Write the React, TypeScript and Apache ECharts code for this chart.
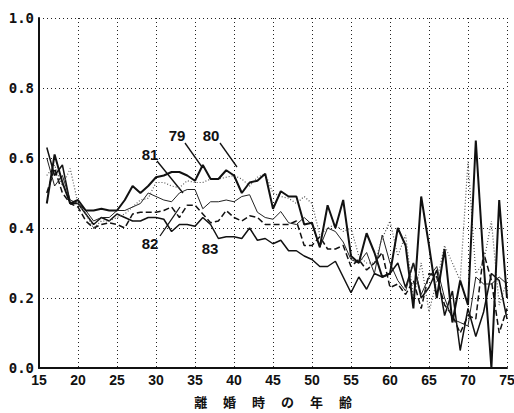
import React, { useEffect, useRef } from "react";
import * as echarts from "echarts";

const ages: number[] = [];
for (let a = 16; a <= 75; a++) ages.push(a);

const seriesNames = ["79", "80", "81", "82", "83"];

const s79 = [0.47, 0.61, 0.53, 0.47, 0.48, 0.45, 0.45, 0.455, 0.45, 0.45, 0.48, 0.52, 0.50, 0.52, 0.545, 0.55, 0.56, 0.56, 0.55, 0.535, 0.58, 0.54, 0.54, 0.565, 0.55, 0.50, 0.53, 0.535, 0.555, 0.455, 0.505, 0.49, 0.49, 0.41, 0.415, 0.345, 0.465, 0.40, 0.48, 0.32, 0.30, 0.385, 0.33, 0.26, 0.27, 0.40, 0.35, 0.17, 0.49, 0.35, 0.20, 0.34, 0.13, 0.25, 0.18, 0.65, 0.30, 0.0, 0.48, 0.20];
const s80 = [0.55, 0.58, 0.52, 0.57, 0.47, 0.44, 0.40, 0.42, 0.42, 0.43, 0.44, 0.46, 0.48, 0.485, 0.53, 0.53, 0.52, 0.515, 0.535, 0.53, 0.53, 0.54, 0.54, 0.545, 0.55, 0.54, 0.52, 0.545, 0.555, 0.50, 0.49, 0.485, 0.47, 0.49, 0.47, 0.38, 0.40, 0.41, 0.39, 0.40, 0.32, 0.30, 0.30, 0.37, 0.42, 0.32, 0.38, 0.20, 0.30, 0.16, 0.25, 0.35, 0.30, 0.25, 0.59, 0.27, 0.30, 0.42, 0.18, 0.25];
const s81 = [0.60, 0.52, 0.55, 0.48, 0.47, 0.45, 0.42, 0.43, 0.43, 0.45, 0.45, 0.46, 0.47, 0.50, 0.49, 0.48, 0.475, 0.50, 0.51, 0.51, 0.455, 0.475, 0.475, 0.48, 0.475, 0.49, 0.495, 0.445, 0.43, 0.425, 0.447, 0.415, 0.41, 0.43, 0.41, 0.345, 0.40, 0.39, 0.36, 0.31, 0.30, 0.33, 0.27, 0.38, 0.30, 0.25, 0.22, 0.30, 0.21, 0.26, 0.29, 0.20, 0.14, 0.13, 0.12, 0.26, 0.24, 0.24, 0.26, 0.24];
const s82 = [0.50, 0.57, 0.50, 0.47, 0.46, 0.42, 0.40, 0.41, 0.415, 0.41, 0.40, 0.44, 0.445, 0.445, 0.445, 0.45, 0.46, 0.43, 0.465, 0.465, 0.44, 0.415, 0.42, 0.45, 0.43, 0.42, 0.435, 0.43, 0.41, 0.41, 0.41, 0.41, 0.42, 0.35, 0.35, 0.375, 0.34, 0.34, 0.35, 0.29, 0.31, 0.28, 0.30, 0.33, 0.23, 0.24, 0.21, 0.25, 0.17, 0.27, 0.26, 0.18, 0.15, 0.10, 0.15, 0.14, 0.33, 0.25, 0.10, 0.17];
const s83 = [0.63, 0.55, 0.58, 0.47, 0.47, 0.44, 0.41, 0.43, 0.42, 0.44, 0.43, 0.42, 0.42, 0.43, 0.43, 0.425, 0.39, 0.41, 0.41, 0.405, 0.43, 0.41, 0.37, 0.375, 0.375, 0.37, 0.40, 0.365, 0.37, 0.355, 0.365, 0.335, 0.335, 0.32, 0.31, 0.29, 0.29, 0.305, 0.26, 0.215, 0.26, 0.225, 0.27, 0.26, 0.27, 0.30, 0.23, 0.30, 0.20, 0.23, 0.28, 0.15, 0.22, 0.05, 0.17, 0.09, 0.16, 0.27, 0.25, 0.14];

const xTicks = [15, 20, 25, 30, 35, 40, 45, 50, 55, 60, 65, 70, 75];
const yTicks = [0, 0.2, 0.4, 0.6, 0.8, 1.0];
const xTitle = "離 　婚 　時 　の 　年 　齢";

// label annotations: [text, textX, textY, leaderFromX, leaderFromY, leaderToX, leaderToY]
const annotations: [string, number, number, number, number, number, number][] = [
  ["79", 177, 135, 185, 143, 202, 167],
  ["80", 211, 135, 220, 143, 237, 167],
  ["81", 150, 154, 157, 161, 183, 193],
  ["82", 150, 243, 160, 236, 180, 207],
  ["83", 210, 248, 0, 0, 0, 0],
];

export default function App() {
  const ref = useRef<HTMLDivElement>(null);
  useEffect(() => {
    if (!ref.current) return;
    const chart = echarts.init(ref.current, undefined, { renderer: "svg" });
    const mk = (vals: number[]) => ages.map((a, i) => [a, vals[i]]);
    const lineStyles: any[] = [
      { color: "#111", width: 2, type: "solid" },
      { color: "#555", width: 1.2, type: [1, 2] },
      { color: "#222", width: 1, type: "solid" },
      { color: "#111", width: 1.5, type: [6, 3] },
      { color: "#111", width: 1.5, type: "solid" },
    ];
    const allData = [s79, s80, s81, s82, s83];
    const graphics: any[] = [];
    annotations.forEach(([t, tx, ty, x1, y1, x2, y2]) => {
      graphics.push({
        type: "text",
        x: tx,
        y: ty,
        style: {
          text: t,
          fill: "#111",
          font: "bold 15px 'Liberation Sans', Arial, sans-serif",
          textAlign: "center",
          textVerticalAlign: "middle",
        },
      });
      if (x1 || y1) {
        graphics.push({
          type: "line",
          shape: { x1, y1, x2, y2 },
          style: { stroke: "#111", lineWidth: 1.3 },
        });
      }
    });
    chart.setOption({
      animation: false,
      backgroundColor: "#fff",
      grid: { left: 39, right: 7, top: 18, bottom: 45, outerBoundsMode: "none", containLabel: false },
      xAxis: {
        type: "value",
        min: 15,
        max: 75,
        interval: 5,
        name: xTitle,
        nameLocation: "middle",
        nameGap: 26,
        nameTextStyle: { fontSize: 13, color: "#111", fontFamily: "'Noto Sans CJK JP', sans-serif", fontWeight: "bold", lineHeight: 15 },
        axisLine: { show: true, onZero: false, lineStyle: { color: "#111", width: 2 } },
        axisTick: { show: false },
        axisLabel: {
          color: "#111",
          fontSize: 14,
          fontWeight: "bold",
          fontFamily: "'Liberation Sans', Arial, sans-serif",
          margin: 5,
          formatter: (v: number) => (xTicks.includes(v) ? String(v) : ""),
        },
        splitLine: { show: true, lineStyle: { color: "#222", type: [1, 3], width: 1 } },
      },
      yAxis: {
        type: "value",
        min: 0,
        max: 1,
        interval: 0.2,
        axisLine: { show: true, lineStyle: { color: "#111", width: 2 } },
        axisTick: { show: false },
        axisLabel: {
          color: "#111",
          fontSize: 14,
          fontWeight: "bold",
          fontFamily: "'DejaVu Sans Mono', monospace",
          margin: 5,
          formatter: (v: number) => (yTicks.some((t) => Math.abs(t - v) < 1e-6) ? v.toFixed(1) : ""),
        },
        splitLine: { show: true, lineStyle: { color: "#222", type: [1, 3], width: 1 } },
      },
      series: seriesNames.map((n, i) => ({
        name: n,
        type: "line",
        data: mk(allData[i]),
        showSymbol: false,
        symbol: "none",
        lineStyle: lineStyles[i],
        z: 5 - i,
      })),
      graphic: graphics,
    });
    return () => chart.dispose();
  }, []);
  return (
    <div
      ref={ref}
      style={{ position: "fixed", left: 0, top: 0, width: 514, height: 413, background: "#fff" }}
    />
  );
}
